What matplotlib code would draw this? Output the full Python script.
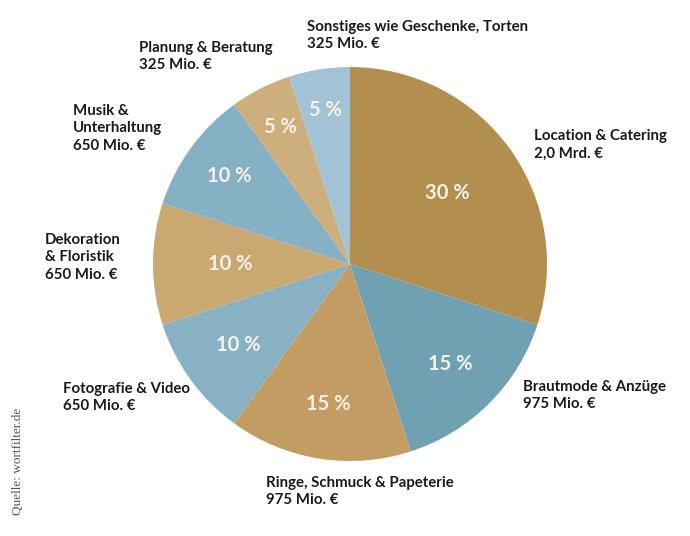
import matplotlib
matplotlib.use("Agg")
import matplotlib.pyplot as plt
import numpy as np

categories = ["Location & Catering", "Brautmode & Anzüge", "Ringe, Schmuck & Papeterie",
              "Fotografie & Video", "Dekoration\n& Floristik", "Musik &\nUnterhaltung",
              "Planung & Beratung", "Sonstiges wie Geschenke, Torten"]
amounts = ["2,0 Mrd. €", "975 Mio. €", "975 Mio. €", "650 Mio. €", "650 Mio. €",
           "650 Mio. €", "325 Mio. €", "325 Mio. €"]
shares = [30, 15, 15, 10, 10, 10, 5, 5]

colors = ["#b38f4f", "#6fa1b2", "#c29c62", "#88b1c4", "#c9a872", "#86b0c3", "#cdae7d", "#a2c2d5"]
pct_dist = [0.61, 0.72, 0.72, 0.70, 0.61, 0.76, 0.78, 0.79]
# label anchor positions (pixels, top-left of text block)
label_pos = [(534, 129), (523, 380), (266, 476), (63, 382), (45, 233), (73, 104), (139, 41), (307, 20)]

W, H = 690, 536
fig = plt.figure(figsize=(W / 100, H / 100), dpi=100)
ax = fig.add_axes([0, 0, 1, 1])

cx, cy, R = 350, H - 264, 197
wedges, _ = ax.pie(shares, colors=colors, startangle=90, counterclock=False,
                   center=(cx, cy), radius=R, frame=True,
                   wedgeprops=dict(linewidth=0))
ax.set_xlim(0, W)
ax.set_ylim(0, H)
ax.set_aspect("equal")
ax.axis("off")

font = "Lato"
for w, s, d in zip(wedges, shares, pct_dist):
    ang = np.deg2rad((w.theta1 + w.theta2) / 2)
    x = cx + d * R * np.cos(ang)
    y = cy + d * R * np.sin(ang)
    ax.text(x, y, f"{s} %", ha="center", va="center", color="#f7f2ea",
            fontsize=14.5, fontweight="bold", family=font)

for cat, amt, (px, py) in zip(categories, amounts, label_pos):
    ax.text(px, H - py, f"{cat}\n{amt}", ha="left", va="top", fontsize=10.8,
            fontweight="bold", family=font, color="#1a1a1a", linespacing=1.3)

ax.text(18, H - 461, "Quelle: wortfilter.de", rotation=90, ha="center", va="center",
        fontsize=9.5, family="Liberation Serif", color="#555555")

fig.savefig("out.png", dpi=100)
